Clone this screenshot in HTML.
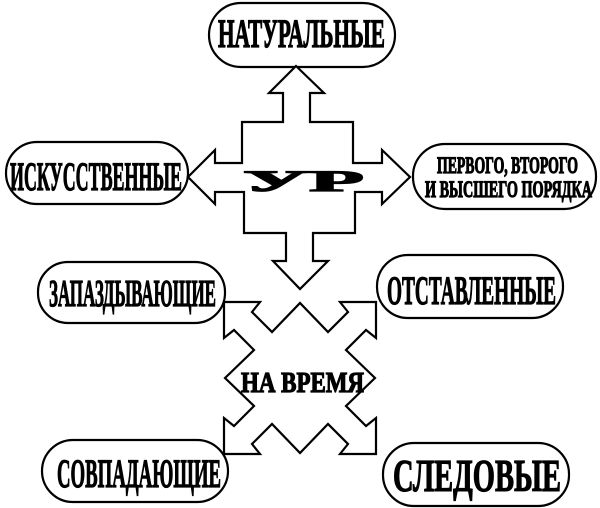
<!DOCTYPE html>
<html><head><meta charset="utf-8"><style>
html,body{margin:0;padding:0;background:#fff;}
svg{display:block;}
text{font-family:"Liberation Serif","Noto Serif CJK SC",serif;font-weight:bold;fill:#000;stroke:#000;stroke-width:1.2;}
</style></head><body>
<svg width="600" height="508" viewBox="0 0 600 508" xmlns="http://www.w3.org/2000/svg">
<g fill="#fff" stroke="#000" stroke-width="2.2">
<rect x="209" y="3" width="186" height="64" rx="32"/>
<rect x="6" y="142" width="182" height="62" rx="31"/>
<rect x="413" y="144" width="183" height="65" rx="32"/>
<rect x="38" y="262" width="187" height="61" rx="30"/>
<rect x="377" y="255" width="186" height="63" rx="31"/>
<rect x="42" y="440" width="186" height="62" rx="31"/>
<rect x="383" y="443" width="186" height="63" rx="31"/>
<polygon points="296,66 324,93 310,93 310,122 353,122 353,163 382,163 382,150 410,177 382,204 382,192 355,192 355,233 313,233 313,261 328,261 300,289 273,261 286,261 286,233 244,233 244,192 215,192 215,204 188,177 215,150 215,163 242,163 242,122 283,122 283,93 269,93"/>
<polygon points="225,378 254,350 234,330 224,338 224,302 260,302 252,312 272,332 300,303 328,332 348,312 340,302 376,302 376,338 366,330 346,350 375,378 346,406 366,426 376,418 376,454 340,454 348,444 328,424 300,453 272,424 252,444 260,454 224,454 224,418 234,426 254,406"/>
</g>
<text x="218" y="47" font-size="40" textLength="167" lengthAdjust="spacingAndGlyphs">НАТУРАЛЬНЫЕ</text>
<text x="10" y="190" font-size="40" textLength="172" lengthAdjust="spacingAndGlyphs">ИСКУССТВЕННЫЕ</text>
<text x="437" y="173" font-size="23" textLength="141" lengthAdjust="spacingAndGlyphs">ПЕРВОГО, ВТОРОГО</text>
<text x="425" y="197" font-size="23" textLength="167" lengthAdjust="spacingAndGlyphs">И ВЫСШЕГО ПОРЯДКА</text>
<text x="243" y="191" font-size="30" textLength="121" lengthAdjust="spacingAndGlyphs" stroke-width="2">УР</text>
<text x="49" y="306" font-size="38" textLength="167" lengthAdjust="spacingAndGlyphs">ЗАПАЗДЫВАЮЩИЕ</text>
<text x="387" y="304" font-size="40" textLength="169" lengthAdjust="spacingAndGlyphs">ОТСТАВЛЕННЫЕ</text>
<text x="241" y="392" font-size="28" textLength="123" lengthAdjust="spacingAndGlyphs">НА ВРЕМЯ</text>
<text x="57" y="487" font-size="40" textLength="164" lengthAdjust="spacingAndGlyphs">СОВПАДАЮЩИЕ</text>
<text x="393" y="491" font-size="45" textLength="168" lengthAdjust="spacingAndGlyphs">СЛЕДОВЫЕ</text>
</svg>
</body></html>
